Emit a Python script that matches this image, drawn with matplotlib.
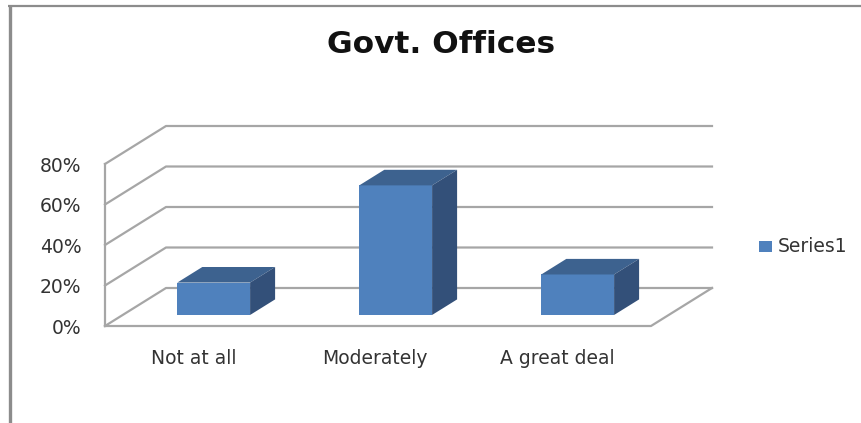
import matplotlib
matplotlib.use("Agg")
import matplotlib.pyplot as plt
from matplotlib.patches import Polygon

categories = ["Not at all", "Moderately", "A great deal"]
values = [16, 64, 20]
yticks = [0, 20, 40, 60, 80]
series_name = "Series1"

plt.rcParams["font.family"] = ["DejaVu Sans"]

W, H = 861, 423
fig = plt.figure(figsize=(W / 100, H / 100), dpi=100)

# front plane of the fake 3d box, px 105-651 wide and 326-164 tall
ax = fig.add_axes([105 / W, 1 - 326 / H, 546 / W, 162 / H])
ax.set_xlim(0, 3)
ax.set_ylim(0, 80)
ax.axis("off")

# depth in data units
depth_x = 61 / 182
depth_y = 38 / 162 * 80


def pt(x, y, d=0.0):
    return (x + depth_x * d, y + depth_y * d)


grid = "#a6a6a6"
text_col = "#333333"
for t in yticks:
    ax.plot(*zip(pt(0, t, 0), pt(0, t, 1), pt(3, t, 1)), color=grid, lw=1.6, clip_on=False)
    ax.text(-0.13, t - 1, f"{t}%", ha="right", va="center", fontsize=13.5, color=text_col)
ax.plot(*zip(pt(0, 0), pt(0, 80)), color=grid, lw=1.6, clip_on=False)
ax.plot(*zip(pt(0, 0), pt(3, 0), pt(3, 0, 1)), color=grid, lw=1.6, clip_on=False)

bar_w = 0.4
d0, d1 = 0.29, 0.70
for i, v in enumerate(values):
    x0 = i + 0.5 - bar_w / 2
    x1 = x0 + bar_w
    ax.add_patch(Polygon([pt(x0, 0, d0), pt(x1, 0, d0), pt(x1, v, d0), pt(x0, v, d0)],
                         fc="#4f81bd", ec="none", clip_on=False, zorder=3))
    ax.add_patch(Polygon([pt(x0, v, d0), pt(x1, v, d0), pt(x1, v, d1), pt(x0, v, d1)],
                         fc="#3d628f", ec="none", clip_on=False, zorder=3))
    ax.add_patch(Polygon([pt(x1, 0, d0), pt(x1, 0, d1), pt(x1, v, d1), pt(x1, v, d0)],
                         fc="#335079", ec="none", clip_on=False, zorder=3))
    ax.text(i + 0.485, -16, categories[i], ha="center", va="center", fontsize=13.5, color=text_col)

fig.text(441 / W, 1 - 53 / H, "Govt. Offices", ha="center", va="baseline",
         fontsize=22.5, fontweight="bold", color="#111111")

# legend
fig.patches.append(plt.Rectangle((759 / W, 1 - 252 / H), 13 / W, 11 / H, transform=fig.transFigure,
                                 fc="#4f81bd", ec="none"))
fig.text(778 / W, 1 - 246 / H, series_name, ha="left", va="center", fontsize=13.5, color=text_col)

# frame, only left and top edges show
frame = "#8c8c8c"
fig.add_artist(plt.Line2D([9.5 / W, 9.5 / W], [0, 1 - 5 / H], color=frame, lw=2.4, solid_capstyle="butt"))
fig.add_artist(plt.Line2D([8 / W, 1], [1 - 6 / H, 1 - 6 / H], color=frame, lw=1.6, solid_capstyle="butt"))

fig.savefig("out.png", dpi=100)
